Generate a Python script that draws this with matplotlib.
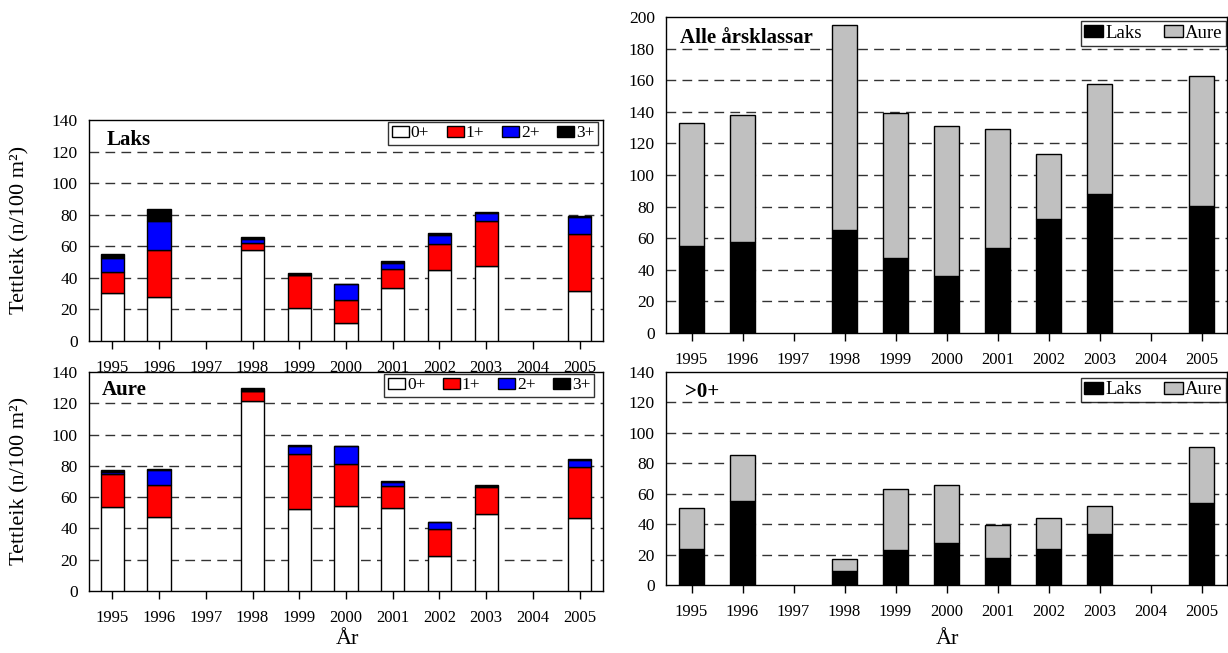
import matplotlib
matplotlib.use("Agg")
import matplotlib.pyplot as plt
import numpy as np
from matplotlib.patches import Patch

plt.rcParams['font.family'] = ['Liberation Serif', 'DejaVu Serif']

years = [1995, 1996, 1997, 1998, 1999, 2000, 2001, 2002, 2003, 2004, 2005]
age_classes = ["0+", "1+", "2+", "3+"]
age_colors = ["#FFFFFF", "#FF0000", "#0000FF", "#000000"]

# Laks (salmon) density by age class
laks_0 = [30.6, 27.7, None, 57.7, 20.6, 11.2, 33.3, 45.0, 47.4, None, 31.4]
laks_1 = [13.0, 30.2, None, 4.2, 21.0, 14.9, 12.2, 16.3, 28.6, None, 36.2]
laks_2 = [9.0, 18.1, None, 3.0, 0.5, 9.9, 4.2, 6.1, 4.8, None, 10.9]
laks_3 = [2.5, 7.4, None, 1.2, 1.0, 0.0, 0.8, 0.8, 0.7, None, 0.9]

# Aure (trout) density by age class
aure_0 = [53.5, 47.3, None, 121.7, 52.4, 54.4, 53.1, 22.1, 49.5, None, 46.5]
aure_1 = [21.5, 20.6, None, 6.3, 35.1, 27.1, 14.2, 17.4, 16.7, None, 32.7]
aure_2 = [1.3, 9.6, None, 0.0, 5.5, 11.1, 2.3, 4.4, 0.7, None, 4.7]
aure_3 = [1.2, 0.6, None, 1.7, 0.6, 0.0, 0.7, 0.0, 0.6, None, 0.6]

# All year classes
alle_laks = [54.9, 57.6, None, 65.4, 47.2, 36.1, 53.9, 72.1, 87.8, None, 80.1]
alle_aure = [78.2, 80.1, None, 129.4, 91.8, 94.7, 75.5, 41.1, 70.1, None, 82.8]

# Older than 0+
eldre_laks = [23.8, 55.2, None, 9.2, 22.7, 27.3, 17.7, 23.6, 33.8, None, 53.7]
eldre_aure = [26.8, 30.3, None, 8.0, 40.5, 38.3, 22.0, 20.7, 17.9, None, 37.2]

species_labels = ["Laks", "Aure"]
species_colors = ["#000000", "#C0C0C0"]

W, H = 1228, 653
fig = plt.figure(figsize=(W / 100, H / 100), dpi=100)


def fig_axes(l, t, r, b):
    return fig.add_axes([l / W, 1 - b / H, (r - l) / W, (b - t) / H])


ax_tl = fig_axes(89, 120, 603, 341)
ax_bl = fig_axes(89, 372, 603, 591)
ax_tr = fig_axes(666, 17, 1227, 333)
ax_br = fig_axes(666, 372, 1227, 585)

x_all = np.arange(len(years))


def stacked(ax, series, colors):
    bottom = np.zeros(len(years))
    for vals, col in zip(series, colors):
        for i, v in enumerate(vals):
            if v is None:
                continue
            ax.bar(x_all[i], v, bottom=bottom[i], width=0.5, color=col,
                   edgecolor="black", linewidth=1.0, zorder=3)
            bottom[i] += v


def style(ax, ymax, step):
    ax.set_xlim(-0.5, len(years) - 0.5)
    ax.set_ylim(0, ymax)
    ax.set_yticks(np.arange(0, ymax + 1, step))
    ax.set_xticks(x_all)
    ax.set_xticklabels([str(y) for y in years])
    for yv in np.arange(step, ymax, step):
        ax.axhline(yv, color="#333333", linewidth=1.0,
                   linestyle=(0, (7, 4.5)), zorder=1)
    ax.tick_params(axis="y", length=0, pad=8, labelsize=12.5)
    ax.tick_params(axis="x", length=6, width=1, direction="out", pad=8,
                   labelsize=12)
    for s in ax.spines.values():
        s.set_linewidth(1.0)
        s.set_color("black")


def legend(ax, labels, colors, anchor, fs, colsp):
    handles = [Patch(facecolor=c, edgecolor="black", linewidth=1.0) for c in colors]
    leg = ax.legend(handles, labels, loc="upper right", bbox_to_anchor=anchor,
                    ncol=len(labels), fontsize=fs, frameon=True, fancybox=False,
                    borderaxespad=0, borderpad=0.2, handlelength=1.0,
                    handleheight=0.6, handletextpad=0.1, columnspacing=colsp)
    leg.get_frame().set_edgecolor("black")
    leg.get_frame().set_linewidth(1.0)
    leg.set_zorder(5)


stacked(ax_tl, [laks_0, laks_1, laks_2, laks_3], age_colors)
style(ax_tl, 140, 20)
legend(ax_tl, age_classes, age_colors, (0.990, 0.991), 12.5, 1.0)
ax_tl.text(0.035, 0.887, "Laks", transform=ax_tl.transAxes, fontsize=15,
           fontweight="bold", va="baseline", ha="left", zorder=6)

stacked(ax_bl, [aure_0, aure_1, aure_2, aure_3], age_colors)
style(ax_bl, 140, 20)
legend(ax_bl, age_classes, age_colors, (0.9825, 0.991), 12.5, 1.0)
ax_bl.text(0.025, 0.895, "Aure", transform=ax_bl.transAxes, fontsize=15,
           fontweight="bold", va="baseline", ha="left", zorder=6)

stacked(ax_tr, [alle_laks, alle_aure], species_colors)
style(ax_tr, 200, 20)
legend(ax_tr, species_labels, species_colors, (0.998, 0.987), 13.5, 1.2)
ax_tr.text(0.025, 0.918, "Alle årsklassar", transform=ax_tr.transAxes,
           fontsize=15, fontweight="bold", va="baseline", ha="left", zorder=6)

stacked(ax_br, [eldre_laks, eldre_aure], species_colors)
style(ax_br, 140, 20)
legend(ax_br, species_labels, species_colors, (0.998, 0.974), 13.5, 1.2)
ax_br.text(0.034, 0.883, ">0+", transform=ax_br.transAxes, fontsize=15,
           fontweight="bold", va="baseline", ha="left", zorder=6)

ylab = "Tettleik (n/100 m²)"
fig.text(20 / W, 1 - 230 / H, ylab, rotation=90, fontsize=16,
         ha="center", va="center")
fig.text(20 / W, 1 - 481 / H, ylab, rotation=90, fontsize=16,
         ha="center", va="center")
fig.text(347 / W, 1 - 640 / H, "År", fontsize=16, ha="center", va="center")
fig.text(947 / W, 1 - 640 / H, "År", fontsize=16, ha="center", va="center")

fig.savefig("out.png", dpi=100)
